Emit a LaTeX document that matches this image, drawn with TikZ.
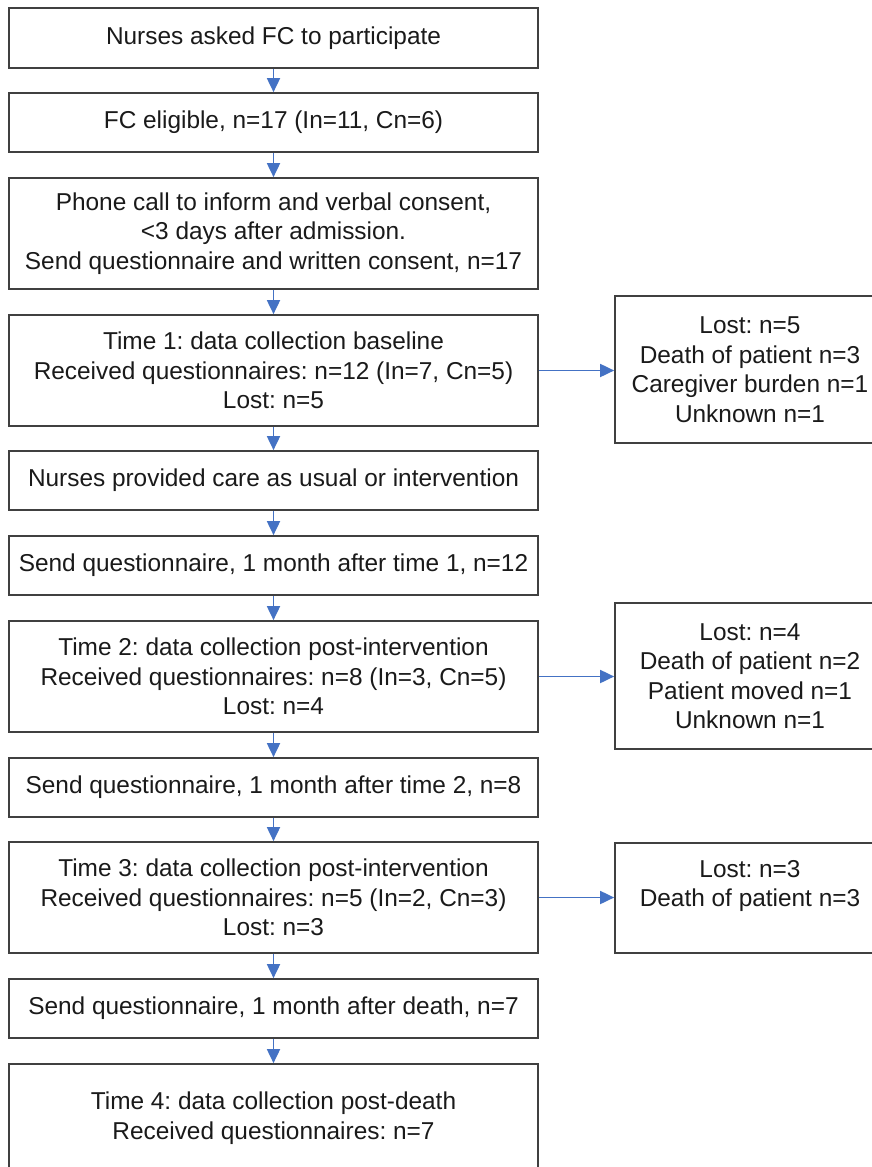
\documentclass[tikz,border=0pt]{standalone}
\usepackage{fontspec}
\setmainfont{Liberation Sans}
\usetikzlibrary{arrows.meta}
\definecolor{arrowblue}{HTML}{4472C4}
\definecolor{boxline}{HTML}{404040}
\definecolor{txt}{HTML}{1A1A1A}
\frenchspacing
\begin{document}
\begin{tikzpicture}[x=1pt,y=1pt,
  box/.style={draw=boxline, line width=1.7pt, text=txt, align=center, inner sep=0pt,
    minimum width=529pt, font=\fontsize{24.4}{29.5}\selectfont},
  side/.style={box, minimum width=270pt},
  arr/.style={draw=arrowblue, line width=1.8pt, -{Triangle[length=14pt,width=13pt]}}]
\clip (0,0) rectangle (872,-1167);
\fill[white] (0,0) rectangle (872,-1167);
\node[box, minimum height=60pt]  (b1)  at (273.5,-38)    {Nurses asked FC to participate};
\node[box, minimum height=59pt]  (b2)  at (273.5,-122.5) {FC eligible, n=17 (In=11, Cn=6)};
\node[box, minimum height=111pt] (b3)  at (273.5,-233.5) {Phone call to inform and verbal consent,\\<3 days after admission.\\Send questionnaire and written consent, n=17};
\node[box, minimum height=111pt] (b4)  at (273.5,-370.5) {Time 1: data collection baseline\\Received questionnaires: n=12 (In=7, Cn=5)\\Lost: n=5};
\node[box, minimum height=59pt]  (b5)  at (273.5,-480.5) {Nurses provided care as usual or intervention};
\node[box, minimum height=59pt]  (b6)  at (273.5,-565.5) {Send questionnaire, 1 month after time 1, n=12};
\node[box, minimum height=111pt] (b7)  at (273.5,-676.5) {Time 2: data collection post-intervention\\Received questionnaires: n=8 (In=3, Cn=5)\\Lost: n=4};
\node[box, minimum height=59pt]  (b8)  at (273.5,-787.5) {Send questionnaire, 1 month after time 2, n=8};
\node[box, minimum height=111pt] (b9)  at (273.5,-897.5) {Time 3: data collection post-intervention\\Received questionnaires: n=5 (In=2, Cn=3)\\Lost: n=3};
\node[box, minimum height=59pt]  (b10) at (273.5,-1008.5) {Send questionnaire, 1 month after death, n=7};
\node[box, minimum height=108pt] (b11) at (273.5,-1118)  {Time 4: data collection post-death\\Received questionnaires: n=7};

\node[side, minimum height=147pt] (r1) at (750,-369.5) {Lost: n=5\\Death of patient n=3\\Caregiver burden n=1\\Unknown n=1};
\node[side, minimum height=146pt] (r2) at (750,-676)   {Lost: n=4\\Death of patient n=2\\Patient moved n=1\\Unknown n=1};
\node[side, minimum height=110pt] (r3) at (750,-898)   {Lost: n=3\\Death of patient n=3\\\mbox{}};

\foreach \a/\b in {b1/b2,b2/b3,b3/b4,b4/b5,b5/b6,b6/b7,b7/b8,b8/b9,b9/b10,b10/b11}
  \draw[arr] (\a.south) -- (\b.north);
\draw[arr] (b4.east) -- (b4.east -| r1.west);
\draw[arr] (b7.east) -- (b7.east -| r2.west);
\draw[arr] (b9.east) -- (b9.east -| r3.west);
\end{tikzpicture}
\end{document}
